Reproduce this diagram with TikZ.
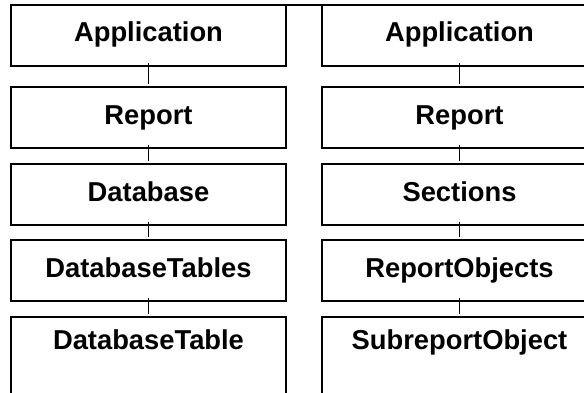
\documentclass[tikz,border=0pt]{standalone}
\usepackage{fontspec}
\setmainfont{Liberation Sans}
\begin{document}
\begin{tikzpicture}[x=0.75pt,y=-0.75pt,
  box/.style={draw, line width=1.2pt, anchor=north, minimum width=275*0.75pt,
    inner xsep=0pt, inner ysep=0pt, outer sep=0pt, text height=37*0.75pt, text depth=24*0.75pt,
    font=\fontsize{20.5}{24}\selectfont\bfseries},
  lastbox/.style={box, text height=32*0.75pt, text depth=90*0.75pt},
  link/.style={draw, line width=0.8pt}]
\useasboundingbox (0,0) rectangle (584,392);
% left column
\node[box] (l1) at (148.5,5) {Application};
\node[box] (l2) at (148.5,87) {Report};
\node[box] (l3) at (148.5,164) {Database};
\node[box] (l4) at (148.5,240) {DatabaseTables};
\node[lastbox] (l5) at (148.5,317) {DatabaseTable};
% right column
\node[box] (r1) at (459.5,5) {Application};
\node[box] (r2) at (459.5,87) {Report};
\node[box] (r3) at (459.5,164) {Sections};
\node[box] (r4) at (459.5,240) {ReportObjects};
\node[lastbox] (r5) at (459.5,317) {SubreportObject};
% top line
\draw[line width=1.2pt] (l1.north west) -- (r1.north east);
% connectors
\foreach \a/\b in {l1/l2,l2/l3,l3/l4,l4/l5,r1/r2,r2/r3,r3/r4,r4/r5}
  \draw[link] ([yshift=2.5pt]\a.south) -- ([yshift=2.5pt]\b.north);
\end{tikzpicture}
\end{document}
